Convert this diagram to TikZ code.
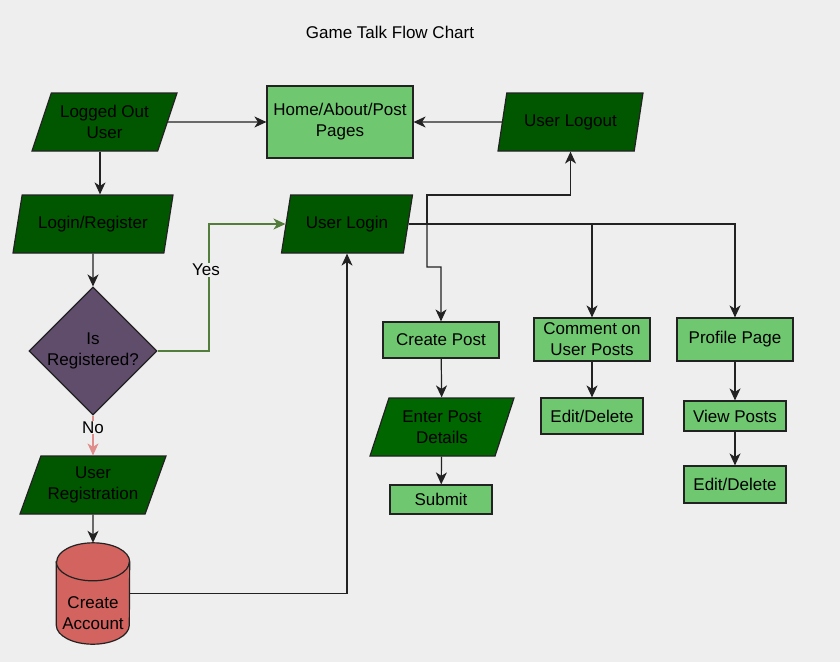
\documentclass[tikz,border=0pt]{standalone}
\usepackage{fontspec}
\setmainfont{Liberation Sans}
\usetikzlibrary{shapes.geometric,arrows.meta}
\definecolor{bgc}{HTML}{EEEEEE}
\definecolor{dgreen}{HTML}{005700}
\definecolor{egreen}{HTML}{006600}
\definecolor{lgreen}{HTML}{6FC870}
\definecolor{plum}{HTML}{604D6C}
\definecolor{brick}{HTML}{D2635F}
\definecolor{yesc}{HTML}{537D3A}
\definecolor{noc}{HTML}{E08E8B}
\definecolor{inkc}{HTML}{222222}
\begin{document}
\begin{tikzpicture}[x=1pt,y=-1pt,
  font=\fontsize{17}{21}\selectfont,
  io/.style={trapezium,trapezium left angle=60,trapezium right angle=120,
    trapezium stretches body,draw=inkc,line width=1.2pt,fill=dgreen,text=black,
    minimum height=58pt,inner sep=0pt,align=center},
  box/.style={rectangle,draw=inkc,line width=1.2pt,fill=lgreen,text=black,
    inner sep=0pt,align=center},
  tip/.style={-{Stealth[length=12pt,width=11pt,inset=3.5pt]}},
  arr/.style={draw=inkc,line width=1.2pt,tip},
  lbl/.style={fill=bgc,inner sep=1pt}]
\fill[bgc] (0,0) rectangle (840,662);
\useasboundingbox (0,0) rectangle (840,662);
\node (title) at (390,32) {Game Talk Flow Chart};
\node[io,minimum width=145pt] (lou) at (104.5,122) {Logged Out\\User};
\node[box,minimum width=146pt,minimum height=72pt] (home) at (340,122) {Home/About/Post\\Pages};
\node[io,minimum width=145pt] (ulo) at (570.5,122) {User Logout};
\node[io,minimum width=160pt] (logreg) at (93,224) {Login/Register};
\node[io,minimum width=131pt] (ulogin) at (347,224) {User Login};
\node[diamond,draw=inkc,line width=1.2pt,fill=plum,text=black,inner sep=0pt,
  minimum width=123pt,minimum height=122pt,align=center] (isreg) at (93,351) {Is\\Registered?};
\node[io,minimum width=146pt] (ureg) at (93,485) {User\\Registration};
% database cylinder
\node[minimum width=73pt,minimum height=101pt,inner sep=0pt] (acct) at (93,593.5) {};
\draw[draw=inkc,fill=brick,line width=1.2pt]
  ([yshift=-19pt]acct.north west) -- ([yshift=19pt]acct.south west)
  arc[start angle=180,end angle=360,x radius=36.5pt,y radius=19pt]
  -- ([yshift=-19pt]acct.north east)
  arc[start angle=0,end angle=180,x radius=36.5pt,y radius=19pt] -- cycle;
\draw[draw=inkc,line width=1.2pt] ([yshift=-19pt]acct.north west)
  arc[start angle=180,end angle=360,x radius=36.5pt,y radius=19pt];
\node[align=center] (acctlbl) at ([yshift=-20pt]acct.center) {Create\\Account};
\node[box,minimum width=116pt,minimum height=36pt] (cpost) at (441,340) {Create Post};
\node[io,minimum width=144pt,fill=egreen] (epd) at (442,427) {Enter Post\\Details};
\node[box,minimum width=102pt,minimum height=29pt] (submit) at (441,499.5) {Submit};
\node[box,minimum width=116pt,minimum height=43pt] (comment) at (592,339.5) {Comment on\\User Posts};
\node[box,minimum width=102pt,minimum height=36pt] (edit1) at (592,416) {Edit/Delete};
\node[box,minimum width=116pt,minimum height=43pt] (profile) at (735,339.5) {Profile Page};
\node[box,minimum width=102pt,minimum height=30pt] (view) at (735,416) {View Posts};
\node[box,minimum width=102pt,minimum height=37pt] (edit2) at (735,484.5) {Edit/Delete};
\coordinate (jn) at (427,224);
% top row
\draw[arr] (lou) -- (home);
\draw[arr] (ulo) -- (home);
\draw[arr] ([xshift=-4.5pt]lou.south) -- ([xshift=-4.5pt]lou.south |- logreg.north);
% registration branch
\draw[arr] (logreg) -- (isreg);
\draw[draw=yesc,line width=1.2pt,tip] (isreg.east) -- (209,351) |- (ulogin);
\node[lbl] (yes) at (206,270) {Yes};
\draw[draw=noc,line width=1.2pt,tip] (isreg) -- node[lbl,pos=0.3] (no) {No} (ureg);
\draw[arr] (ureg) -- (acct);
\draw[arr] (acct) -| (ulogin);
% user login branches
\draw[arr] (ulogin) -- (jn) -- (427,267) -| (cpost);
\draw[arr] (jn) -- (427,195) -| (ulo);
\draw[arr] (ulogin) -| (comment);
\draw[arr] (ulogin) -| (profile);
\draw[arr] (cpost) -- (epd);
\draw[arr] (epd) -- (submit);
\draw[arr] (comment) -- (edit1);
\draw[arr] (profile) -- (view);
\draw[arr] (view) -- (edit2);
\end{tikzpicture}
\end{document}
